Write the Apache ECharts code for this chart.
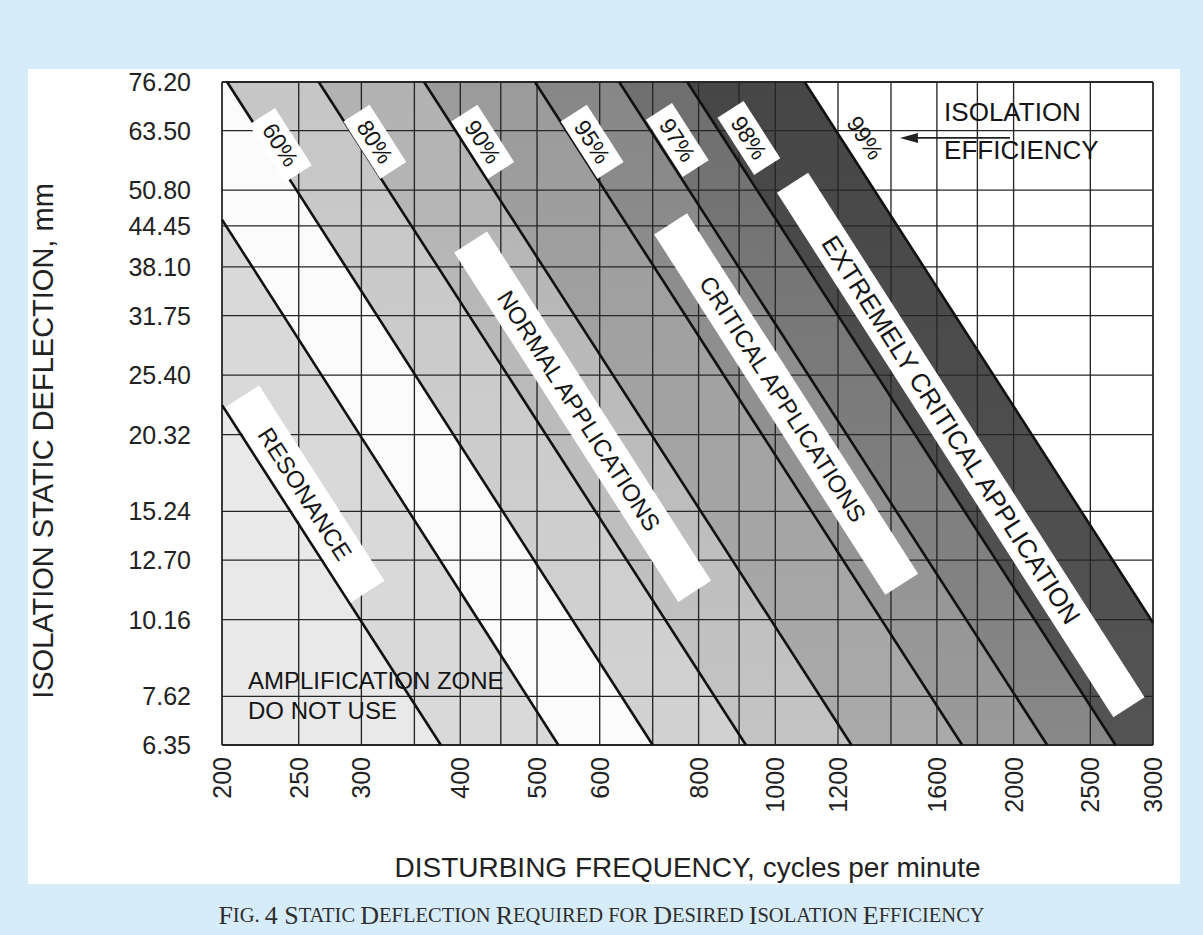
<!DOCTYPE html>
<html>
<head>
<meta charset="utf-8">
<script src="https://cdn.jsdelivr.net/npm/echarts@6/dist/echarts.min.js"></script>
<style>
html,body{margin:0;padding:0;background:#d6ecf8;}
#panel{position:absolute;left:28px;top:69px;width:1152px;height:815px;background:#ffffff;}
#c{position:absolute;left:0;top:0;width:1203px;height:935px;}
</style>
</head>
<body>
<div id="panel"></div>
<div id="c"></div>
<script>
// ---------------- data ----------------
// vertical grid lines, disturbing frequency (cycles per minute)
const freqGrid = [200,250,300,350,400,450,500,600,700,800,900,1000,1200,1400,1600,1800,2000,2500,3000];
// labelled frequencies
const freqLabels = [200,250,300,400,500,600,800,1000,1200,1600,2000,2500,3000];
// horizontal grid lines / labels, static deflection (mm)
const deflGrid = [6.35,7.62,10.16,12.70,15.24,20.32,25.40,31.75,38.10,44.45,50.80,63.50,76.20];

// diagonal lines: endpoints [frequency, deflection]
const resonanceLine = [[200,22.7],[378,6.35]];
const unityLine     = [[200,45.5],[532,6.35]];
const eff60 = [[203,76.2],[700,6.35]];
const eff80 = [[265,76.2],[918,6.35]];
const eff90 = [[360,76.2],[1248,6.35]];
const eff95 = [[497,76.2],[1722,6.35]];
const eff97 = [[635,76.2],[2205,6.35]];
const eff98 = [[774,76.2],[2690,6.35]];
const eff99 = [[1089,76.2],[3000,10.04]];

// efficiency labels and where they sit [frequency, deflection]
const effLabels  = ['60%','80%','90%','95%','97%','98%','99%'];
const effLabelAt = [[237,60.2],[312,60.9],[427,60.9],[587,60.9],[752,61.3],[926,61.8],[1298,61.8]];

// zone labels and where they sit [frequency, deflection]
const zoneLabels  = ['RESONANCE','NORMAL APPLICATIONS','CRITICAL APPLICATIONS','EXTREMELY CRITICAL APPLICATION'];
const zoneLabelAt = [[254.6,16.27],[571,21.74],[1032,22.79],[1715,19.55]];

// other annotations [frequency, deflection]
const noteTexts = ['ISOLATION','EFFICIENCY','AMPLIFICATION ZONE','DO NOT USE'];
const noteAt    = [[1634,68.1],[1634,59.1],[215.7,8.10],[215.7,7.24]];
const arrowFrom = [1979,61.8];
const arrowTo   = [1437,61.8];

// ---------------- chart ----------------
const FONT = '"Liberation Sans", Arial, Helvetica, sans-serif';
const SERIF = '"Liberation Serif", "Times New Roman", serif';
const LX = v => Math.log10(v);
const P = p => [LX(p[0]), LX(p[1])];
const FMIN = freqGrid[0], FMAX = freqGrid[freqGrid.length-1];
const DMIN = deflGrid[0], DMAX = deflGrid[deflGrid.length-1];

function vgrad(top, bottom) {
  return {type: 'linear', x: 0, y: 0, x2: 0, y2: 1, global: false,
    colorStops: [{offset: 0, color: top}, {offset: 1, color: bottom}]};
}

// band fills, painted from the right-most line to the left-most
const bands = [
  {line: eff99, color: vgrad('#464646', '#545454')},
  {line: eff98, color: vgrad('#6f6f6f', '#888888')},
  {line: eff97, color: vgrad('#878787', '#9a9a9a')},
  {line: eff95, color: vgrad('#9b9b9b', '#aaaaaa')},
  {line: eff90, color: vgrad('#b2b2b2', '#c4c4c4')},
  {line: eff80, color: vgrad('#c6c6c6', '#d2d2d2')},
  {line: eff60, color: '#fbfbfb'},
  {line: unityLine, color: '#d9d9d9'},
  {line: resonanceLine, color: '#e9e9e9'}
];
const diagLines = [resonanceLine, unityLine, eff60, eff80, eff90, eff95, eff97, eff98, eff99];

const series = [];
bands.forEach(b => {
  const pts = b.line[0][0] > FMIN ? [[FMIN, DMAX]].concat(b.line) : b.line.slice();
  series.push({
    type: 'line', silent: true, symbol: 'none', z: 1,
    data: pts.map(P),
    lineStyle: {width: 0},
    areaStyle: {color: b.color, opacity: 1, origin: 'start'}
  });
});

// grid lines (vertical at each frequency, horizontal at each deflection)
const gridData = freqGrid.map(v => [LX(v), LX(DMIN), 0]).concat(deflGrid.map(v => [LX(FMIN), LX(v), 1]));
series.push({
  type: 'custom', coordinateSystem: 'cartesian2d', z: 3, silent: true,
  data: gridData,
  renderItem: function (params, api) {
    const kind = api.value(2);
    let a, b, edge;
    if (kind === 0) {
      a = api.coord([api.value(0), LX(DMIN)]);
      b = api.coord([api.value(0), LX(DMAX)]);
      edge = params.dataIndex === 0 || params.dataIndex === freqGrid.length - 1;
    } else {
      a = api.coord([LX(FMIN), api.value(1)]);
      b = api.coord([LX(FMAX), api.value(1)]);
      const k = params.dataIndex - freqGrid.length;
      edge = k === 0 || k === deflGrid.length - 1;
    }
    return {type: 'line', shape: {x1: a[0], y1: a[1], x2: b[0], y2: b[1]},
      style: {stroke: '#262626', lineWidth: edge ? 1.8 : 1.35}};
  }
});

// diagonal lines
diagLines.forEach(l => {
  series.push({
    type: 'line', silent: true, symbol: 'none', z: 4,
    data: l.map(P),
    lineStyle: {color: '#111', width: 2.6}
  });
});

function angleOf(api, line) {
  const a = api.coord(P(line[0]));
  const b = api.coord(P(line[1]));
  return Math.atan2(b[1]-a[1], b[0]-a[0]);
}

// boxed, rotated labels: box length, box thickness, font size, text shift along the box
const boxItems = [];
effLabels.forEach((t, i) => boxItems.push({
  text: t, at: effLabelAt[i], line: eff60,
  w: t === '99%' ? 0 : 68, h: 31, fs: 23, dx: 0
}));
const zoneBox = [[232,40,24,0],[415,39,24,-7],[428,39,24,-6],[623,37,26,-18]];
zoneLabels.forEach((t, i) => boxItems.push({
  text: t, at: zoneLabelAt[i], line: eff60, w: zoneBox[i][0], h: zoneBox[i][1], fs: zoneBox[i][2], dx: zoneBox[i][3]
}));

series.push({
  type: 'custom', coordinateSystem: 'cartesian2d', z: 6, silent: true,
  data: boxItems.map(it => P(it.at)),
  renderItem: function (params, api) {
    const it = boxItems[params.dataIndex];
    const c = api.coord([api.value(0), api.value(1)]);
    const ang = angleOf(api, it.line);
    const children = [];
    if (it.w) {
      children.push({type: 'rect', shape: {x: -it.w/2, y: -it.h/2, width: it.w, height: it.h},
        style: {fill: '#ffffff'}});
    }
    children.push({type: 'text', style: {text: it.text, x: it.dx, y: 0, align: 'center', verticalAlign: 'middle',
      fontSize: it.fs, fontFamily: FONT, fill: '#151515'}});
    return {type: 'group', x: c[0], y: c[1], rotation: -ang, children: children};
  }
});

// plain annotations
series.push({
  type: 'custom', coordinateSystem: 'cartesian2d', z: 6, silent: true,
  data: noteAt.map(P),
  renderItem: function (params, api) {
    const c = api.coord([api.value(0), api.value(1)]);
    const big = params.dataIndex < 2;
    return {type: 'text', x: c[0], y: c[1], style: {text: noteTexts[params.dataIndex], x: 0, y: 0,
      align: 'left', verticalAlign: 'middle', fontSize: big ? 26 : 24, fontFamily: FONT, fill: '#151515'}};
  }
});

// arrow
series.push({
  type: 'custom', coordinateSystem: 'cartesian2d', z: 6, silent: true,
  data: [P(arrowFrom).concat(P(arrowTo))],
  renderItem: function (params, api) {
    const a = api.coord([api.value(0), api.value(1)]);
    const b = api.coord([api.value(2), api.value(3)]);
    return {type: 'group', children: [
      {type: 'line', shape: {x1: a[0], y1: a[1], x2: b[0] + 14, y2: b[1]}, style: {stroke: '#222', lineWidth: 1.6}},
      {type: 'polygon', shape: {points: [[b[0], b[1]], [b[0] + 18, b[1] - 5], [b[0] + 18, b[1] + 5]]}, style: {fill: '#222'}}
    ]};
  }
});

const chart = echarts.init(document.getElementById('c'), null, {renderer: 'svg'});
chart.setOption({
  animation: false,
  backgroundColor: 'transparent',
  grid: {left: 222, top: 82, width: 931, height: 663, containLabel: false},
  xAxis: {
    type: 'value', min: LX(FMIN), max: LX(FMAX),
    axisLine: {show: false}, axisTick: {show: false}, splitLine: {show: false},
    axisLabel: {
      customValues: freqLabels.map(LX),
      formatter: v => String(Math.round(Math.pow(10, v))),
      rotate: 90, margin: 12, fontSize: 25, fontFamily: FONT, color: '#222',
      padding: [10, 0, 0, 0]
    },
    name: 'DISTURBING FREQUENCY, cycles per minute', nameLocation: 'middle', nameGap: 108,
    nameTextStyle: {fontSize: 28, fontFamily: FONT, color: '#222'}
  },
  yAxis: {
    type: 'value', min: LX(DMIN), max: LX(DMAX),
    axisLine: {show: false}, axisTick: {show: false}, splitLine: {show: false},
    axisLabel: {
      customValues: deflGrid.map(LX),
      formatter: v => Math.pow(10, v).toFixed(2),
      margin: 31, fontSize: 25, fontFamily: FONT, color: '#222',
      padding: [8, 0, 0, 0]
    }
  },
  title: {
    left: 'center', top: 897,
    text: '{b|F}{s|IG. }{b|4 S}{s|TATIC }{b|D}{s|EFLECTION }{b|R}{s|EQUIRED FOR }{b|D}{s|ESIRED }{b|I}{s|SOLATION }{b|E}{s|FFICIENCY}',
    textStyle: {
      fontWeight: 'normal',
      rich: {
        b: {fontSize: 26, fontWeight: 'normal', fontFamily: SERIF, color: '#2e2e2e'},
        s: {fontSize: 20.5, fontWeight: 'normal', fontFamily: SERIF, color: '#2e2e2e'}
      }
    }
  },
  graphic: [{
    type: 'text', x: 43, y: 441, rotation: Math.PI / 2,
    style: {text: 'ISOLATION STATIC DEFLECTION, mm', align: 'center', verticalAlign: 'middle',
      fontSize: 29, fontFamily: FONT, fill: '#222'}
  }],
  series: series
});
</script>
</body>
</html>
